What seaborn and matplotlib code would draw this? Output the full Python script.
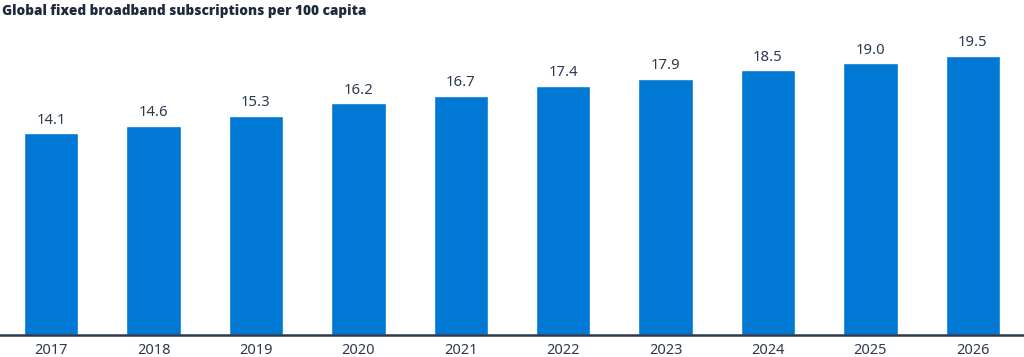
import numpy as np
import pandas as pd
import seaborn as sns
import matplotlib.pyplot as plt

years = ['2017', '2018', '2019', '2020', '2021', '2022', '2023', '2024', '2025', '2026']
subs_per_100 = [14.1, 14.6, 15.3, 16.2, 16.7, 17.4, 17.9, 18.5, 19.0, 19.5]

df = pd.DataFrame({'year': years, 'subs': subs_per_100})

sns.set_style('white')
plt.rcParams['font.family'] = ['Noto Sans', 'DejaVu Sans']

fig = plt.figure(figsize=(10.24, 3.57), dpi=100)
ax = fig.add_axes([0, 22 / 357, 1, 300 / 357])

sns.barplot(data=df, x='year', y='subs', color='#0078d4', width=0.53,
            saturation=1, ax=ax)

for i, v in enumerate(subs_per_100):
    ax.text(i, v + 0.4, f'{v:.1f}', ha='center', va='bottom',
            fontsize=10.7, color='#2b3a4e')

ax.set_xlim(-0.5, 9.5)
ax.set_ylim(0, 300 / 14.3)
ax.set(xlabel='', ylabel='')
ax.set_yticks([])
for s in ['top', 'right', 'left']:
    ax.spines[s].set_visible(False)
ax.spines['bottom'].set_color('#2b3a4e')
ax.spines['bottom'].set_linewidth(1.8)
ax.tick_params(axis='x', length=0, pad=6, labelsize=10.5, labelcolor='#2b3a4e')

# title in a heavier face
fig.text(0.002, 0.97, 'Global fixed broadband subscriptions per 100 capita',
         ha='left', va='center', fontsize=9.8, fontweight='heavy',
         family=['Open Sans', 'DejaVu Sans'], color='#1e2b3d')

fig.savefig('out.png', dpi=100)
